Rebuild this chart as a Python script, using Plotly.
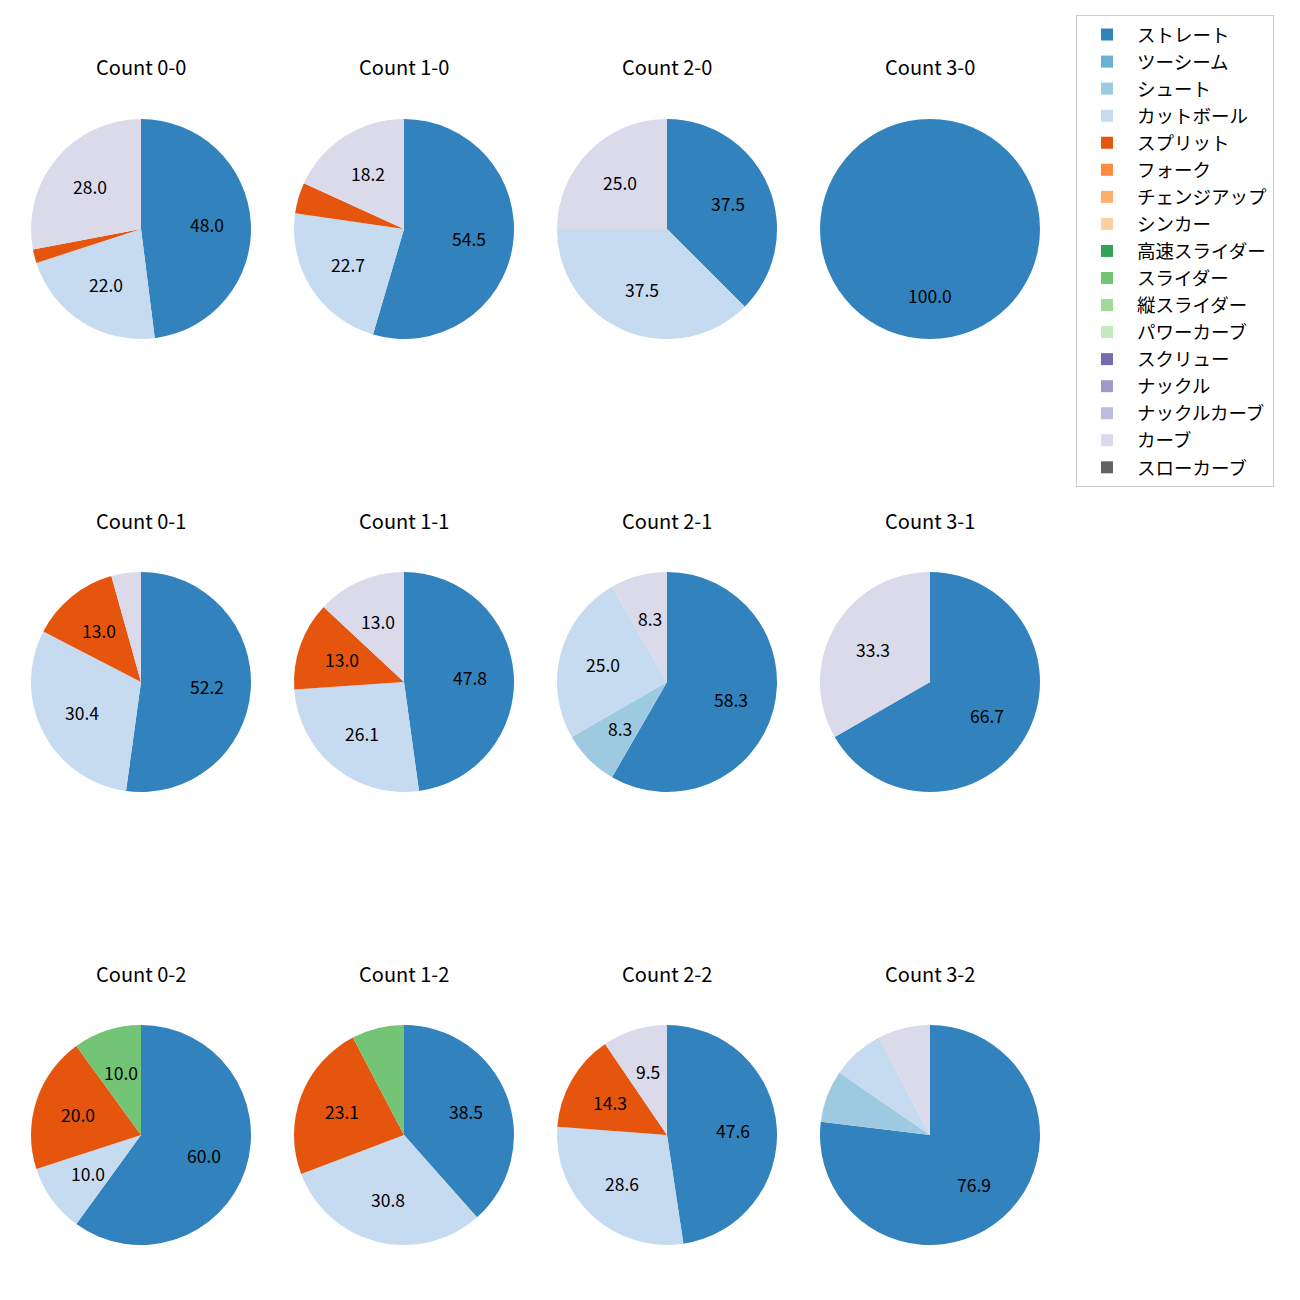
import math
import plotly.graph_objects as go

# ---- data ----
pitch_types = ["ストレート", "ツーシーム", "シュート", "カットボール", "スプリット", "フォーク",
               "チェンジアップ", "シンカー", "高速スライダー", "スライダー", "縦スライダー",
               "パワーカーブ", "スクリュー", "ナックル", "ナックルカーブ", "カーブ", "スローカーブ"]
pitch_colors = ["#3182bd", "#6baed6", "#9ecae1", "#c6dbef", "#e6550d", "#fd8d3c",
                "#fdae6b", "#fdd0a2", "#31a354", "#74c476", "#a1d99b", "#c7e9c0",
                "#756bb1", "#9e9ac8", "#bcbddc", "#dadaeb", "#636363"]

count_labels = ["0-0", "1-0", "2-0", "3-0",
                "0-1", "1-1", "2-1", "3-1",
                "0-2", "1-2", "2-2", "3-2"]

# pitch counts per ball-strike count (same order as count_labels)
straight   = [24, 12, 3, 1, 12, 11, 7, 2, 6, 5, 10, 10]
twoseam    = [0, 0, 0, 0, 0, 0, 0, 0, 0, 0, 0, 0]
shoot      = [0, 0, 0, 0, 0, 0, 1, 0, 0, 0, 0, 1]
cutball    = [11, 5, 3, 0, 7, 6, 3, 0, 1, 4, 6, 1]
split      = [1, 1, 0, 0, 3, 3, 0, 0, 2, 3, 3, 0]
fork       = [0, 0, 0, 0, 0, 0, 0, 0, 0, 0, 0, 0]
changeup   = [0, 0, 0, 0, 0, 0, 0, 0, 0, 0, 0, 0]
sinker     = [0, 0, 0, 0, 0, 0, 0, 0, 0, 0, 0, 0]
fastslider = [0, 0, 0, 0, 0, 0, 0, 0, 0, 0, 0, 0]
slider     = [0, 0, 0, 0, 0, 0, 0, 0, 1, 1, 0, 0]
vslider    = [0, 0, 0, 0, 0, 0, 0, 0, 0, 0, 0, 0]
powercurve = [0, 0, 0, 0, 0, 0, 0, 0, 0, 0, 0, 0]
screw      = [0, 0, 0, 0, 0, 0, 0, 0, 0, 0, 0, 0]
knuckle    = [0, 0, 0, 0, 0, 0, 0, 0, 0, 0, 0, 0]
knucklecurve = [0, 0, 0, 0, 0, 0, 0, 0, 0, 0, 0, 0]
curve      = [14, 4, 2, 0, 1, 3, 1, 1, 0, 0, 2, 1]
slowcurve  = [0, 0, 0, 0, 0, 0, 0, 0, 0, 0, 0, 0]

series = [straight, twoseam, shoot, cutball, split, fork, changeup, sinker,
          fastslider, slider, vslider, powercurve, screw, knuckle, knucklecurve,
          curve, slowcurve]

# ---- layout geometry (pixels, figure coordinates) ----
W = H = 1300
col_cx = [133, 396, 659, 922]
row_cy = [221, 674, 1127]
R = 110
title_offset = 162
label_frac = 0.6
label_min_pct = 8.0
FONT = "Noto Sans CJK JP, Noto Sans, sans-serif"

fig = go.Figure()
annotations = []

for k, cl in enumerate(count_labels):
    r, c = divmod(k, 4)
    cx, cy = col_cx[c], row_cy[r]
    vals = [s[k] for s in series]
    total = sum(vals)
    fig.add_trace(go.Pie(
        labels=pitch_types,
        values=vals,
        marker=dict(colors=pitch_colors, line=dict(width=0)),
        sort=False,
        direction="clockwise",
        rotation=0,
        textinfo="none",
        hoverinfo="label+percent",
        domain=dict(x=[(cx - R) / W, (cx + R) / W],
                    y=[1 - (cy + R) / H, 1 - (cy - R) / H]),
        showlegend=(k == 0),
    ))
    # percentage labels (matplotlib autopct style, at 0.6 radius)
    cum = 0.0
    for v in vals:
        if total == 0 or v == 0:
            continue
        f0 = cum / total
        cum += v
        f1 = cum / total
        pct = 100.0 * v / total
        if pct < label_min_pct:
            continue
        theta = math.radians(90 - 360 * (f0 + f1) / 2)
        px = cx + label_frac * R * math.cos(theta)
        py = cy - label_frac * R * math.sin(theta)
        annotations.append(dict(
            x=px / W, y=1 - py / H, xref="paper", yref="paper",
            text=f"{pct:.1f}", showarrow=False,
            font=dict(size=17.5, color="#000000", family=FONT),
            xanchor="center", yanchor="middle"))
    annotations.append(dict(
        x=cx / W, y=1 - (cy - title_offset) / H, xref="paper", yref="paper",
        text=f"Count {cl}", showarrow=False,
        font=dict(size=20, color="#000000", family=FONT),
        xanchor="center", yanchor="middle"))

fig.update_layout(
    width=W, height=H,
    margin=dict(l=0, r=0, t=0, b=0),
    paper_bgcolor="white",
    plot_bgcolor="white",
    font=dict(family=FONT, color="#000000"),
    annotations=annotations,
    legend=dict(
        x=1068 / W, y=1 - 7 / H, xanchor="left", yanchor="top",
        bordercolor="#cccccc", borderwidth=1, bgcolor="white",
        font=dict(size=18.5, family=FONT, color="#000000"),
        traceorder="normal",
        itemwidth=50,
    ),
)

fig.write_html("out.html")
